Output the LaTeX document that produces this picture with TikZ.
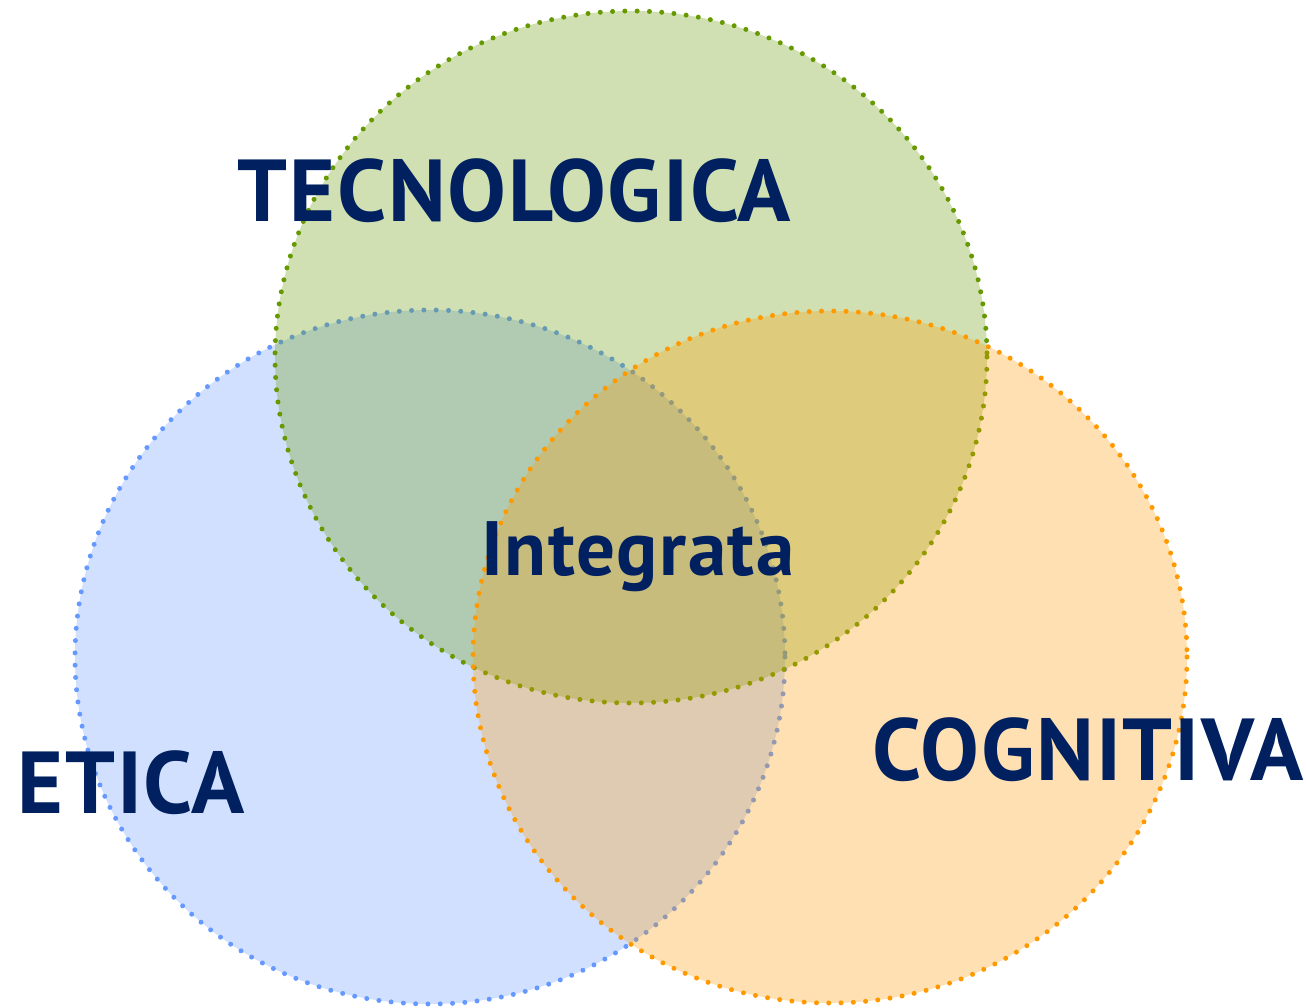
\documentclass[tikz,border=0pt]{standalone}
\usepackage{fontspec}
\setsansfont{PT Sans}[LetterSpace=2.0]
\tikzset{every picture/.style={line width=0.75pt}}
\tikzset{
  setborder/.style={dash pattern=on 0pt off 12.3pt, line cap=round, line width=5pt, fill opacity=0.3, draw opacity=1},
  setlabel/.style={anchor=base, inner sep=0pt, text={rgb,255:red,0;green,32;blue,96}, font=\sffamily\bfseries\fontsize{88}{88}\selectfont},
}
\begin{document}
\begin{tikzpicture}[x=1pt,y=1pt,yscale=-1,xscale=1]
	\useasboundingbox (0,0) rectangle (1306,1008);
	
	%Shape: Ellipse [ETICA]
	\draw [setborder, color={rgb, 255:red, 102; green, 153; blue, 255 }, fill={rgb, 255:red, 102; green, 153; blue, 255 }] (430,657) ellipse (355 and 347);
	%Shape: Ellipse [TECNOLOGICA]
	\draw [setborder, color={rgb, 255:red, 102; green, 153; blue, 0 }, fill={rgb, 255:red, 102; green, 153; blue, 0 }] (631,357) ellipse (356 and 346);
	%Shape: Ellipse [COGNITIVA]
	\draw [setborder, color={rgb, 255:red, 255; green, 153; blue, 0 }, fill={rgb, 255:red, 255; green, 153; blue, 0 }] (830,657) ellipse (357 and 346);
	
	% Text Node
	\node [setlabel] (tecnologica) at (514,222) {TECNOLOGICA};
	% Text Node
	\node [setlabel, font=\sffamily\bfseries\fontsize{77}{77}\selectfont] (integrata) at (638,575) {Integrata};
	% Text Node
	\node [setlabel] (etica) at (131,813) {ETICA};
	% Text Node
	\node [setlabel] (cognitiva) at (1088,780) {COGNITIVA};
	
\end{tikzpicture}
\end{document}
